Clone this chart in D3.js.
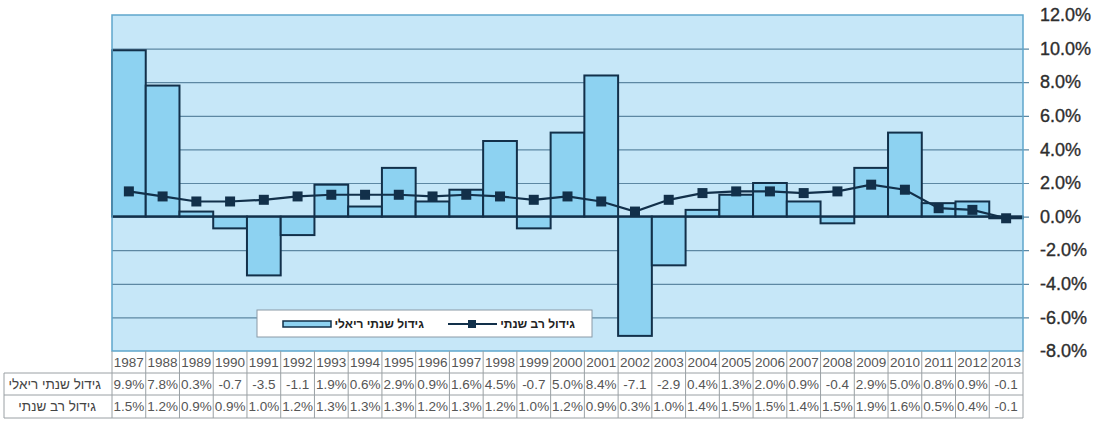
<!DOCTYPE html>
<html><head><meta charset="utf-8">
<script src="https://cdn.jsdelivr.net/npm/d3@7/dist/d3.min.js"></script>
<style>
html,body{margin:0;padding:0;background:#fff;}
svg{display:block;font-family:"Liberation Sans",Arial,sans-serif;}
</style></head>
<body><svg id="c" width="1101" height="424"></svg>
<script>
const years = [1987,1988,1989,1990,1991,1992,1993,1994,1995,1996,1997,1998,1999,2000,2001,2002,2003,2004,2005,2006,2007,2008,2009,2010,2011,2012,2013];
const annualGrowth = [9.9,7.8,0.3,-0.7,-3.5,-1.1,1.9,0.6,2.9,0.9,1.6,4.5,-0.7,5.0,8.4,-7.1,-2.9,0.4,1.3,2.0,0.9,-0.4,2.9,5.0,0.8,0.9,-0.1];
const multiYearGrowth = [1.5,1.2,0.9,0.9,1.0,1.2,1.3,1.3,1.3,1.2,1.3,1.2,1.0,1.2,0.9,0.3,1.0,1.4,1.5,1.5,1.4,1.5,1.9,1.6,0.5,0.4,-0.1];
const yTicks = [12,10,8,6,4,2,0,-2,-4,-6,-8];
const seriesNames = ["גידול שנתי ריאלי","גידול רב שנתי"];

const svg = d3.select("#c");
const L = 112, R = 1023, T = 15, B = 351;
const x = d3.scaleBand().domain(years).range([L, R]).padding(0);
const y = d3.scaleLinear().domain([-8, 12]).range([B, T]);

const barFill = "#8dd2f1", dark = "#12304a", bg = "#c6e7f8", grid = "#5d88a3";

// background
svg.append("rect").attr("x", L).attr("y", T).attr("width", R - L).attr("height", B - T).attr("fill", bg);

// gridlines + right axis
const yAxis = d3.axisRight(y).tickValues(yTicks).tickSize(-(R - L)).tickPadding(14)
  .tickFormat(d => d.toFixed(1) + "%");
const ga = svg.append("g").attr("transform", `translate(${R + 6},0)`).call(yAxis);
ga.select(".domain").remove();
ga.selectAll(".tick line").attr("stroke", grid).attr("stroke-width", 1.2).attr("x2", -(R - L) - 6).attr("x1", 0);
ga.selectAll(".tick").filter(d => d === 12 || d === -8).select("line").attr("stroke", "none");
ga.selectAll(".tick text").attr("fill", "#2e2e2e").attr("font-size", 18).attr("x", 11)
  .attr("stroke", "#2e2e2e").attr("stroke-width", 0.35)
  .attr("font-family", "'Liberation Sans',Arial,sans-serif");

// bars
svg.append("g").selectAll("rect").data(annualGrowth).join("rect")
  .attr("x", (d, i) => x(years[i]))
  .attr("width", x.bandwidth())
  .attr("y", d => y(Math.max(0, d)))
  .attr("height", d => Math.abs(y(d) - y(0)))
  .attr("fill", barFill).attr("stroke", dark).attr("stroke-width", 2);

// zero line
svg.append("line").attr("x1", L).attr("x2", R).attr("y1", y(0)).attr("y2", y(0))
  .attr("stroke", dark).attr("stroke-width", 2);

// plot border
svg.append("rect").attr("x", L).attr("y", T).attr("width", R - L).attr("height", B - T)
  .attr("fill", "none").attr("stroke", "#5fa6cc").attr("stroke-width", 1.5);

// line
const cx = i => x(years[i]) + x.bandwidth() / 2;
svg.append("path").datum(multiYearGrowth)
  .attr("d", d3.line().x((d, i) => cx(i)).y(d => y(d)))
  .attr("fill", "none").attr("stroke", dark).attr("stroke-width", 2.2);
svg.append("g").selectAll("rect").data(multiYearGrowth).join("rect")
  .attr("x", (d, i) => cx(i) - 5).attr("y", d => y(d) - 5)
  .attr("width", 10).attr("height", 10).attr("fill", dark);

// legend
const lg = svg.append("g");
lg.append("rect").attr("x", 257).attr("y", 310).attr("width", 335).attr("height", 27)
  .attr("fill", "#fff").attr("stroke", "#8a9aa6").attr("stroke-width", 1);
lg.append("text").attr("x", 575).attr("y", 328).attr("text-anchor", "start").attr("direction", "rtl")
  .attr("font-size", 12).attr("font-weight", "bold").attr("fill", "#222").text(seriesNames[1]);
lg.append("line").attr("x1", 448).attr("x2", 497).attr("y1", 324).attr("y2", 324).attr("stroke", dark).attr("stroke-width", 2);
lg.append("rect").attr("x", 468).attr("y", 320).attr("width", 8).attr("height", 8).attr("fill", dark);
lg.append("text").attr("x", 424).attr("y", 328).attr("text-anchor", "start").attr("direction", "rtl")
  .attr("font-size", 12).attr("font-weight", "bold").attr("fill", "#222").text(seriesNames[0]);
lg.append("rect").attr("x", 283).attr("y", 321).attr("width", 48).attr("height", 6)
  .attr("fill", barFill).attr("stroke", dark).attr("stroke-width", 1.5);

// data table
const tg = svg.append("g");
const tcol = "#9aa0a4";
const rowTops = [351, 373, 395, 418];
[1, 2, 3].forEach(k => tg.append("line").attr("x1", 4).attr("x2", R).attr("y1", rowTops[k]).attr("y2", rowTops[k]).attr("stroke", tcol));
tg.append("line").attr("x1", 4).attr("x2", 4).attr("y1", rowTops[1]).attr("y2", rowTops[3]).attr("stroke", tcol);
const edges = years.map(d => x(d)).concat([R]);
tg.selectAll("line.v").data(edges).join("line").attr("class", "v")
  .attr("x1", d => d).attr("x2", d => d).attr("y1", rowTops[0]).attr("y2", rowTops[3]).attr("stroke", tcol);
tg.selectAll("text.yr").data(years).join("text").attr("class", "yr")
  .attr("x", d => x(d) + x.bandwidth() / 2).attr("y", 367).attr("text-anchor", "middle")
  .attr("font-size", 13.5).attr("fill", "#555").text(d => d);
const fmt = v => v < 0 ? v.toFixed(1) : v.toFixed(1) + "%";
tg.selectAll("text.r1").data(annualGrowth).join("text").attr("class", "r1")
  .attr("x", (d, i) => x(years[i]) + x.bandwidth() / 2).attr("y", 389).attr("text-anchor", "middle")
  .attr("font-size", 13.5).attr("fill", "#555").text(fmt);
tg.selectAll("text.r2").data(multiYearGrowth).join("text").attr("class", "r2")
  .attr("x", (d, i) => x(years[i]) + x.bandwidth() / 2).attr("y", 411).attr("text-anchor", "middle")
  .attr("font-size", 13.5).attr("fill", "#555").text(fmt);
tg.append("text").attr("x", 101).attr("y", 389).attr("text-anchor", "start").attr("direction", "rtl")
  .attr("font-size", 13.5).attr("fill", "#444").text(seriesNames[0]);
tg.append("text").attr("x", 96).attr("y", 411).attr("text-anchor", "start").attr("direction", "rtl")
  .attr("font-size", 13.5).attr("fill", "#444").text(seriesNames[1]);
</script></body></html>
